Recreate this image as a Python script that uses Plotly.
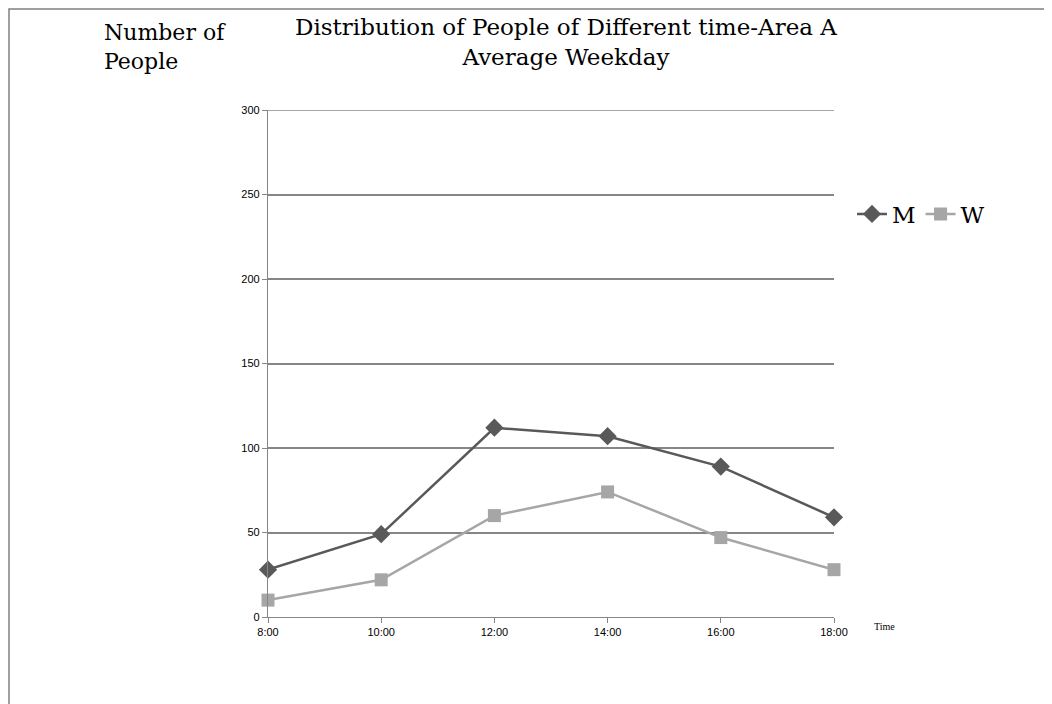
import plotly.graph_objects as go

times = ["8:00", "10:00", "12:00", "14:00", "16:00", "18:00"]
men = [28, 49, 112, 107, 89, 59]
women = [10, 22, 60, 74, 47, 28]
y_ticks = [0, 50, 100, 150, 200, 250, 300]

OFF = 8  # page body margin
L, R, T, B = 268 - OFF, 834 - OFF, 110 - OFF, 617 - OFF
W, H = 1052, 704
pw, ph = R - L, B - T

def px(x):
    return (x - OFF - L) / pw

def py(y):
    return (B - (y - OFF)) / ph

fig = go.Figure()
fig.add_trace(go.Scatter(x=list(range(len(times))), y=men, name="M", mode="lines+markers",
                         line=dict(color="#595959", width=2.5),
                         marker=dict(symbol="diamond", size=14, color="#595959"),
                         cliponaxis=False))
fig.add_trace(go.Scatter(x=list(range(len(times))), y=women, name="W", mode="lines+markers",
                         line=dict(color="#a6a6a6", width=2.5),
                         marker=dict(symbol="square", size=13, color="#a6a6a6"),
                         cliponaxis=False))

fig.update_layout(
    width=W, height=H,
    margin=dict(l=L, r=W - R, t=T, b=H - B, autoexpand=False),
    paper_bgcolor="white", plot_bgcolor="white",
    showlegend=True,
    legend=dict(orientation="h", x=px(852), y=py(214), xanchor="left", yanchor="middle",
                font=dict(family="DejaVu Serif", size=23, color="black"),
                itemwidth=30, tracegroupgap=0, bgcolor="rgba(0,0,0,0)"),
    xaxis=dict(range=[0, 5], tickmode="array", tickvals=list(range(len(times))), ticktext=times,
               showgrid=False, zeroline=False, showline=True, linecolor="#868686", linewidth=1.2,
               ticks="outside", ticklen=5, tickcolor="#868686",
               tickfont=dict(family="Liberation Sans", size=11, color="black")),
    yaxis=dict(range=[0, 300], tickmode="array", tickvals=y_ticks,
               showgrid=True, gridcolor="#868686", gridwidth=1.5, zeroline=False,
               showline=True, linecolor="#868686", linewidth=1.2,
               ticks="outside", ticklen=5, tickcolor="#868686",
               tickfont=dict(family="Liberation Sans", size=11, color="black")),
    annotations=[
        dict(text="Distribution of People of Different time-Area A<br>Average Weekday",
             x=px(566), y=py(12), xref="paper", yref="paper", xanchor="center", yanchor="top",
             showarrow=False, align="center",
             font=dict(family="DejaVu Serif", size=23, color="black")),
        dict(text="Number of<br>People", x=px(102), y=py(18), xref="paper", yref="paper",
             xanchor="left", yanchor="top", showarrow=False, align="left",
             font=dict(family="DejaVu Serif", size=22, color="black")),
        dict(text="Time", x=px(872), y=py(626), xref="paper", yref="paper",
             xanchor="left", yanchor="middle", showarrow=False,
             font=dict(family="Liberation Serif", size=10, color="black")),
    ],
    shapes=[
        dict(type="rect", xref="paper", yref="paper", x0=px(OFF + 1), x1=px(1070), y0=py(720),
             y1=py(OFF + 1), line=dict(color="#808080", width=1.5), fillcolor="rgba(0,0,0,0)",
             layer="below"),
        dict(type="line", xref="paper", yref="y", x0=0, x1=1, y0=y_ticks[-1], y1=y_ticks[-1],
             line=dict(color="#868686", width=1.5), layer="below"),
    ],
)

fig.write_html("out.html")
